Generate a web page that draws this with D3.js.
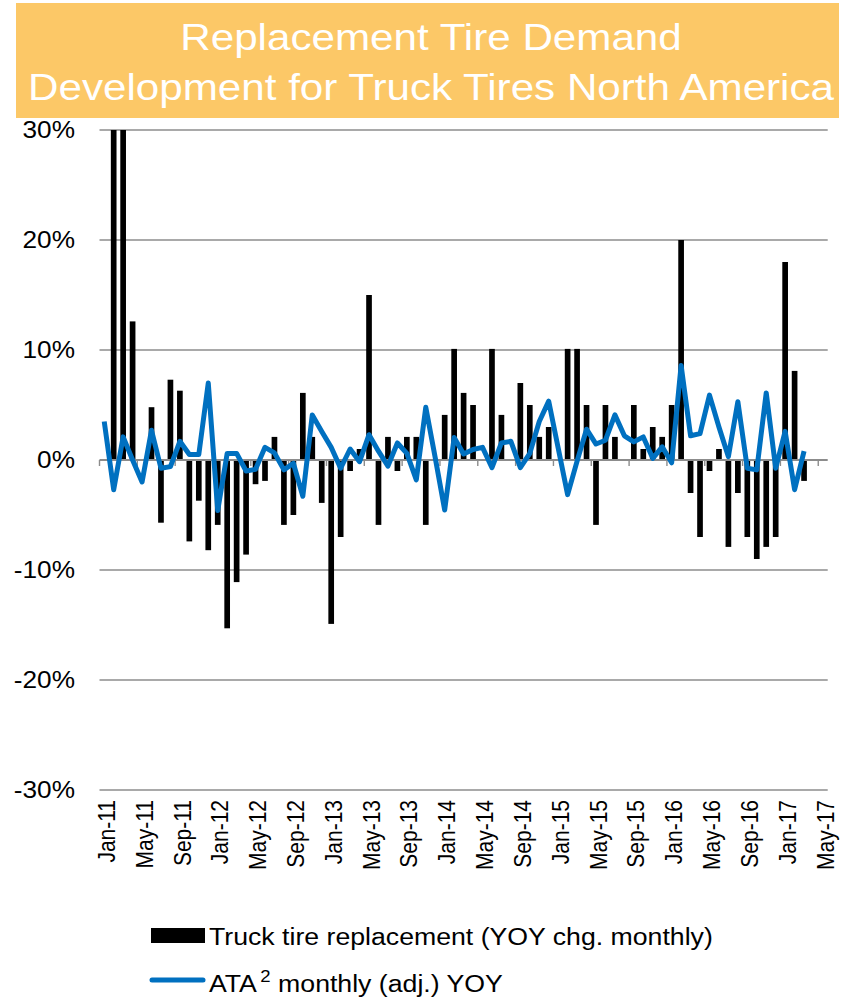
<!DOCTYPE html>
<html>
<head>
<meta charset="utf-8">
<script src="https://cdn.jsdelivr.net/npm/d3@7"></script>
<style>
  html, body { margin: 0; padding: 0; background: #ffffff; }
  svg { display: block; font-family: "Liberation Sans", Arial, sans-serif; }
</style>
</head>
<body>
<svg id="chart" width="848" height="997"></svg>
<script>
// Monthly year-over-year changes, Jan-11 through Mar-17 (percent)
const tireReplacement = [
  0, 30, 30, 12.6, 0, 4.8, -5.7, 7.3, 6.3, -7.4, -3.7, -8.2,
  -5.9, -15.3, -11.1, -8.6, -2.2, -1.9, 2.1, -5.9, -5.0, 6.1, 2.1, -3.9,
  -14.9, -7.0, -1.0, 1.0, 15.0, -5.9, 2.1, -1.0, 2.1, 2.1, -5.9, 0,
  4.1, 10.1, 6.1, 5.0, 0, 10.1, 4.1, 0, 7.0, 5.0, 2.1, 3.0,
  0, 10.1, 10.1, 5.0, -5.9, 5.0, 2.1, 0, 5.0, 1.0, 3.0, 2.1,
  5.0, 20.0, -3.0, -7.0, -1.0, 1.0, -7.9, -3.0, -7.0, -9.0, -7.9, -7.0,
  18.0, 8.1, -1.9
];
const ataTonnage = [
  3.5, -2.7, 2.1, 0.0, -2.0, 2.7, -0.75, -0.6, 1.7, 0.5, 0.5, 7.0,
  -4.6, 0.6, 0.6, -1.0, -0.85, 1.15, 0.65, -0.9, -0.3, -3.3, 4.1, 2.6,
  1.15, -0.75, 1.0, -0.15, 2.3, 0.8, -0.55, 1.55, 0.6, -1.8, 4.8, 0.2,
  -4.55, 2.05, 0.55, 0.95, 1.15, -0.7, 1.55, 1.7, -0.7, 0.6, 3.5, 5.35,
  1.1, -3.15, -0.1, 2.8, 1.45, 1.8, 4.1, 2.2, 1.65, 2.1, 0.15, 1.2,
  -0.25, 8.6, 2.2, 2.4, 5.9, 3.0, 0.3, 5.3, -0.75, -0.9, 6.1, -0.75,
  2.6, -2.7, 0.8
];
const tickLabels = [
  "Jan-11", "May-11", "Sep-11", "Jan-12", "May-12", "Sep-12", "Jan-13",
  "May-13", "Sep-13", "Jan-14", "May-14", "Sep-14", "Jan-15", "May-15",
  "Sep-15", "Jan-16", "May-16", "Sep-16", "Jan-17", "May-17"
];
const yTicks = [30, 20, 10, 0, -10, -20, -30];
const titleLines = ["Replacement Tire Demand", "Development for Truck Tires North America"];
const seriesNames = ["Truck tire replacement (YOY chg. monthly)", "ATA", "2", " monthly (adj.) YOY"];

// Month axis runs Jan-11 .. May-17
const fmt = d3.timeFormat("%b-%y");
const months = d3.timeMonth.range(new Date(2011, 0, 1), new Date(2017, 5, 1)).map(fmt);
const dataMonths = months.slice(0, tireReplacement.length);

const svg = d3.select("#chart");
const plot = { left: 99.5, right: 827.7, top: 130, bottom: 790 };
const sx = 1.14; // horizontal widening of text

const x = d3.scaleBand().domain(months).range([plot.left, plot.right])
  .paddingInner(0.4).paddingOuter(0.2);
const step = x.step();
const y = d3.scaleLinear().domain([-30, 30]).range([plot.bottom, plot.top]);

// Title banner
svg.append("rect").attr("x", 16).attr("y", 3).attr("width", 823).attr("height", 115)
  .attr("fill", "#FCC867");
titleLines.forEach((t, i) => {
  svg.append("g").attr("transform", `translate(431,${50 + i * 50}) scale(${sx},1)`)
    .append("text").attr("text-anchor", "middle").attr("fill", "#ffffff")
    .attr("font-size", 37).text(t);
});

// Gridlines
svg.append("g").selectAll("line").data(yTicks.filter(d => d !== 0)).join("line")
  .attr("x1", plot.left).attr("x2", plot.right)
  .attr("y1", d => y(d)).attr("y2", d => y(d))
  .attr("stroke", "#8c8c8c").attr("stroke-width", 1.4);

// Y axis labels
svg.append("g").selectAll("g").data(yTicks).join("g")
  .attr("transform", d => `translate(75,${y(d)}) scale(${sx},1)`)
  .append("text").attr("text-anchor", "end").attr("dy", "0.36em")
  .attr("font-size", 23).attr("fill", "#000")
  .text(d => d + "%");

// Bars
svg.append("g").selectAll("rect").data(dataMonths).join("rect")
  .attr("x", m => x(m))
  .attr("width", x.bandwidth())
  .attr("y", (m, i) => y(Math.max(0, tireReplacement[i])))
  .attr("height", (m, i) => Math.abs(y(tireReplacement[i]) - y(0)))
  .attr("fill", "#000");

// Zero axis with tick marks on month boundaries
const zeroAxis = svg.append("g").attr("transform", `translate(0,${y(0)})`)
  .call(d3.axisBottom(x).tickValues(tickLabels).tickSize(6).tickFormat(""));
zeroAxis.select(".domain").attr("stroke", "#8c8c8c").attr("stroke-width", 2.2)
  .attr("d", `M${plot.left},0H${plot.right}`);
zeroAxis.selectAll(".tick line").attr("x1", -step / 2).attr("x2", -step / 2)
  .attr("stroke", "#8c8c8c").attr("stroke-width", 1.4);

// Line series
const line = d3.line()
  .x((m) => x(m) + x.bandwidth() / 2)
  .y((m, i) => y(ataTonnage[i]));
svg.append("path").datum(dataMonths)
  .attr("d", line).attr("fill", "none")
  .attr("stroke", "#0070C0").attr("stroke-width", 5)
  .attr("stroke-linejoin", "round");

// Rotated month labels
const bottomAxis = svg.append("g").attr("transform", `translate(0,${plot.bottom})`)
  .call(d3.axisBottom(x).tickValues(tickLabels).tickSize(0));
bottomAxis.select(".domain").remove();
bottomAxis.selectAll(".tick text")
  .attr("font-size", 21).attr("fill", "#000")
  .attr("font-family", '"Liberation Sans", Arial, sans-serif')
  .attr("text-anchor", "end")
  .attr("transform", `translate(2,0) rotate(-90) scale(1,${sx})`)
  .attr("x", -10).attr("y", 0).attr("dy", "0.36em");

// Legend
const lg = svg.append("g");
lg.append("rect").attr("x", 151).attr("y", 928).attr("width", 54).attr("height", 15).attr("fill", "#000");
lg.append("g").attr("transform", `translate(209,945) scale(1.16,1)`)
  .append("text").attr("font-size", 23).attr("fill", "#000").text(seriesNames[0]);
lg.append("line").attr("x1", 152).attr("x2", 203).attr("y1", 980).attr("y2", 980)
  .attr("stroke", "#0070C0").attr("stroke-width", 5).attr("stroke-linecap", "round");
const t2 = lg.append("g").attr("transform", `translate(209,992) scale(1.16,1)`)
  .append("text").attr("font-size", 23).attr("fill", "#000");
t2.append("tspan").text(seriesNames[1]);
t2.append("tspan").attr("font-size", 16).attr("dy", -10).attr("dx", 3).text(seriesNames[2]);
t2.append("tspan").attr("dy", 10).text(seriesNames[3]);
</script>
</body>
</html>
